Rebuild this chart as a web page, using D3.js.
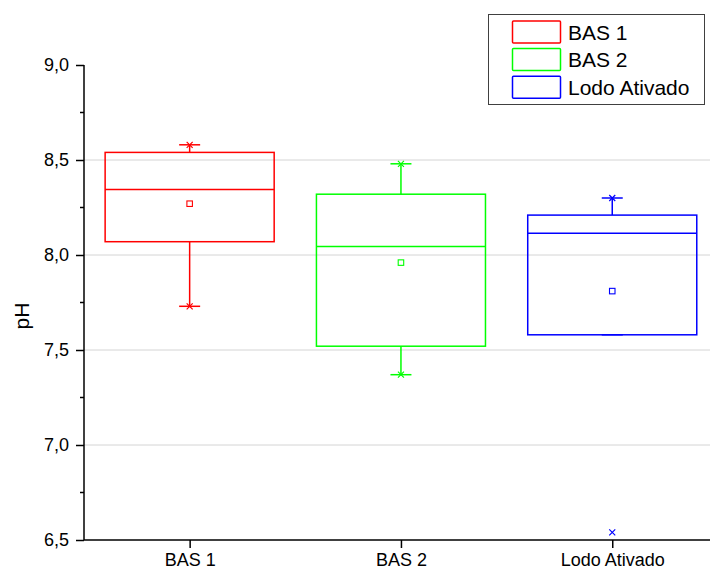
<!DOCTYPE html>
<html><head><meta charset="utf-8">
<script src="https://cdn.jsdelivr.net/npm/d3@7"></script>
<style>body{margin:0;background:#fff}svg{display:block}text{font-family:"Liberation Sans",Arial,sans-serif}</style>
</head><body>
<svg id="chart" width="710" height="572"></svg>
<script>
const categories = ["BAS 1", "BAS 2", "Lodo Ativado"];
const colors = ["#ff0000", "#00ff00", "#0000ff"];
const q1Values = [8.07, 7.52, 7.58];
const medianValues = [8.345, 8.045, 8.115];
const q3Values = [8.54, 8.32, 8.21];
const whiskerLow = [7.73, 7.37, 7.58];
const whiskerHigh = [8.58, 8.48, 8.30];
const meanValues = [8.27, 7.96, 7.81];
const minValues = [7.73, 7.37, 6.54];
const maxValues = [8.58, 8.48, 8.30];
const yTicks = [6.5, 7.0, 7.5, 8.0, 8.5, 9.0];
const yMinorTicks = [6.75, 7.25, 7.75, 8.25, 8.75];
const gridValues = [7.0, 7.5, 8.0, 8.5];
const yLabel = "pH";

const svg = d3.select("#chart");
const padLeft = 84, padTop = 65, padBottom = 540;
const x = d3.scaleLinear().domain([0.5, 3.5]).range([padLeft, padLeft + 3 * 211.3]);
const y = d3.scaleLinear().domain([6.5, 9.0]).range([padBottom, padTop]);
const step = x(2) - x(1);
const boxW = step * 0.8;
const capW = 21;
const fmt = v => d3.format(".1f")(v).replace(".", ",");

// grid
svg.append("g").selectAll("line").data(gridValues).join("line")
  .attr("x1", padLeft).attr("x2", 710).attr("y1", d => y(d)).attr("y2", d => y(d))
  .attr("stroke", "#d4d4d4").attr("stroke-width", 1);

// boxes
const data = categories.map((c, i) => ({c, i, col: colors[i], q1: q1Values[i], med: medianValues[i], q3: q3Values[i],
  lo: whiskerLow[i], hi: whiskerHigh[i], mean: meanValues[i], mn: minValues[i], mx: maxValues[i]}));
const g = svg.append("g").selectAll("g").data(data).join("g");
g.each(function(d) {
  const s = d3.select(this);
  const cx = x(d.i + 1);
  const sw = 1.5;
  s.append("line").attr("x1", cx).attr("x2", cx).attr("y1", y(d.q3)).attr("y2", y(d.hi)).attr("stroke", d.col).attr("stroke-width", sw);
  s.append("line").attr("x1", cx).attr("x2", cx).attr("y1", y(d.q1)).attr("y2", y(d.lo)).attr("stroke", d.col).attr("stroke-width", sw);
  s.append("line").attr("x1", cx - capW/2).attr("x2", cx + capW/2).attr("y1", y(d.hi)).attr("y2", y(d.hi)).attr("stroke", d.col).attr("stroke-width", sw);
  s.append("line").attr("x1", cx - capW/2).attr("x2", cx + capW/2).attr("y1", y(d.lo)).attr("y2", y(d.lo)).attr("stroke", d.col).attr("stroke-width", sw);
  s.append("rect").attr("x", cx - boxW/2).attr("y", y(d.q3)).attr("width", boxW).attr("height", y(d.q1) - y(d.q3))
    .attr("fill", "none").attr("stroke", d.col).attr("stroke-width", sw);
  s.append("line").attr("x1", cx - boxW/2).attr("x2", cx + boxW/2).attr("y1", y(d.med)).attr("y2", y(d.med)).attr("stroke", d.col).attr("stroke-width", sw);
  s.append("rect").attr("x", cx - 2.75).attr("y", y(d.mean) - 2.75).attr("width", 5.5).attr("height", 5.5)
    .attr("fill", "none").attr("stroke", d.col).attr("stroke-width", 1.1);
  [d.mn, d.mx].forEach(v => {
    const yy = y(v), r = 3;
    s.append("path").attr("d", `M${cx-r},${yy-r}L${cx+r},${yy+r}M${cx-r},${yy+r}L${cx+r},${yy-r}`)
      .attr("stroke", d.col).attr("stroke-width", 1.2).attr("fill", "none");
  });
});

// axes
const yAxis = d3.axisLeft(y).tickValues(yTicks).tickFormat(fmt).tickSize(8).tickPadding(7);
const ya = svg.append("g").attr("transform", `translate(${padLeft},0)`).call(yAxis);
ya.select(".domain").remove();
ya.selectAll(".tick line").attr("stroke", "#000").attr("stroke-width", 1.5);
ya.selectAll("text").attr("font-size", 18).attr("fill", "#000").attr("font-family", "Liberation Sans, Arial, sans-serif");
svg.append("g").selectAll("line").data(yMinorTicks).join("line")
  .attr("x1", padLeft - 4).attr("x2", padLeft).attr("y1", d => y(d)).attr("y2", d => y(d))
  .attr("stroke", "#000").attr("stroke-width", 1.5);
svg.append("line").attr("x1", padLeft).attr("x2", padLeft).attr("y1", padTop).attr("y2", padBottom).attr("stroke", "#000").attr("stroke-width", 1.5);

const xAxis = d3.axisBottom(x).tickValues([1, 2, 3]).tickFormat(d => categories[d - 1]).tickSize(8).tickPadding(5);
const xa = svg.append("g").attr("transform", `translate(0,${padBottom})`).call(xAxis);
xa.select(".domain").remove();
xa.selectAll(".tick line").attr("stroke", "#000").attr("stroke-width", 1.5);
xa.selectAll("text").attr("font-size", 18).attr("fill", "#000").attr("font-family", "Liberation Sans, Arial, sans-serif");
svg.append("line").attr("x1", padLeft).attr("x2", 710).attr("y1", padBottom).attr("y2", padBottom).attr("stroke", "#000").attr("stroke-width", 1.5);

// y label
svg.append("text").attr("transform", `translate(29,316) rotate(-90)`)
  .attr("text-anchor", "middle").attr("font-size", 21).text(yLabel);

// legend
const lg = svg.append("g");
lg.append("rect").attr("x", 488.5).attr("y", 14.5).attr("width", 216).attr("height", 90)
  .attr("fill", "#fff").attr("stroke", "#404040").attr("stroke-width", 1);
const items = lg.selectAll("g.item").data(categories).join("g").attr("class", "item")
  .attr("transform", (d, i) => `translate(0,${21 + i * 27.6})`);
items.append("rect").attr("x", 512.5).attr("y", 0).attr("width", 48).attr("height", 22).attr("rx", 1)
  .attr("fill", "none").attr("stroke", (d, i) => colors[i]).attr("stroke-width", 1.5);
items.append("text").attr("x", 568).attr("y", 18.5).attr("font-size", 21).text(d => d);
</script>
</body></html>
